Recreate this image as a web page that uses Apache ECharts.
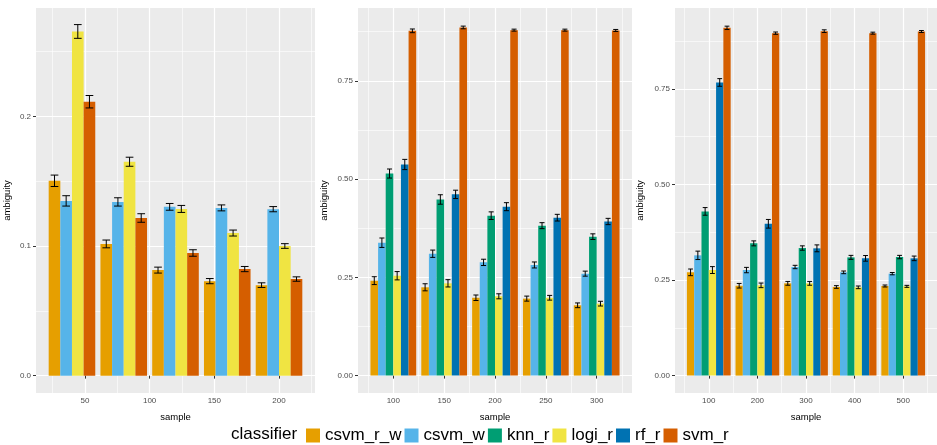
<!DOCTYPE html>
<html>
<head>
<meta charset="utf-8">
<script src="https://cdn.jsdelivr.net/npm/echarts@6/dist/echarts.min.js"></script>
<style>
html,body{margin:0;padding:0;background:#fff;}
#chart{width:937px;height:445px;}
</style>
</head>
<body>
<div id="chart"></div>
<script>
// ---------- data ----------
const classifiers = ['csvm_r_w', 'csvm_w', 'knn_r', 'logi_r', 'rf_r', 'svm_r'];
const colors = ['#E69F00', '#56B4E9', '#009E73', '#F0E442', '#0072B2', '#D55E00'];

// panel 1 (4 classifiers)
const p1Samples = [40, 80, 120, 160, 200];
const p1Classifiers = ['csvm_r_w', 'csvm_w', 'logi_r', 'svm_r'];
const p1_csvm_r_w = [0.1503, 0.1016, 0.0814, 0.0729, 0.0698];
const p1_csvm_w   = [0.1348, 0.1340, 0.1302, 0.1294, 0.1284];
const p1_logi_r   = [0.2655, 0.1650, 0.1286, 0.1100, 0.1000];
const p1_svm_r    = [0.2113, 0.1216, 0.0946, 0.0822, 0.0745];
const p1_csvm_r_w_se = [0.0044, 0.0030, 0.0023, 0.0020, 0.0018];
const p1_csvm_w_se   = [0.0040, 0.0032, 0.0026, 0.0023, 0.0020];
const p1_logi_r_se   = [0.0053, 0.0035, 0.0027, 0.0023, 0.0018];
const p1_svm_r_se    = [0.0048, 0.0033, 0.0025, 0.0020, 0.0017];

// panel 2
const p2Samples = [100, 150, 200, 250, 300];
const p2_csvm_r_w = [0.2415, 0.2246, 0.1980, 0.1958, 0.1788];
const p2_csvm_w   = [0.3380, 0.3100, 0.2880, 0.2814, 0.2593];
const p2_knn_r    = [0.5140, 0.4480, 0.4068, 0.3814, 0.3534];
const p2_logi_r   = [0.2540, 0.2347, 0.2017, 0.1980, 0.1830];
const p2_rf_r     = [0.5370, 0.4610, 0.4297, 0.4017, 0.3920];
const p2_svm_r    = [0.8770, 0.8856, 0.8788, 0.8788, 0.8780];
const p2_csvm_r_w_se = [0.0100, 0.0090, 0.0070, 0.0064, 0.0060];
const p2_csvm_w_se   = [0.0120, 0.0093, 0.0080, 0.0076, 0.0064];
const p2_knn_r_se    = [0.0115, 0.0120, 0.0097, 0.0076, 0.0072];
const p2_logi_r_se   = [0.0106, 0.0093, 0.0064, 0.0060, 0.0060];
const p2_rf_r_se     = [0.0130, 0.0106, 0.0102, 0.0085, 0.0080];
const p2_svm_r_se    = [0.0047, 0.0034, 0.0025, 0.0025, 0.0025];

// panel 3
const p3Samples = [100, 200, 300, 400, 500];
const p3_csvm_r_w = [0.2700, 0.2350, 0.2413, 0.2317, 0.2343];
const p3_csvm_w   = [0.3145, 0.2760, 0.2840, 0.2700, 0.2666];
const p3_knn_r    = [0.4294, 0.3458, 0.3336, 0.3092, 0.3100];
const p3_logi_r   = [0.2760, 0.2360, 0.2413, 0.2308, 0.2334];
const p3_rf_r     = [0.7666, 0.3970, 0.3328, 0.3066, 0.3066];
const p3_svm_r    = [0.9094, 0.8955, 0.9007, 0.8955, 0.8998];
const p3_csvm_r_w_se = [0.0087, 0.0060, 0.0050, 0.0035, 0.0026];
const p3_csvm_w_se   = [0.0110, 0.0070, 0.0044, 0.0035, 0.0030];
const p3_knn_r_se    = [0.0100, 0.0065, 0.0057, 0.0052, 0.0044];
const p3_logi_r_se   = [0.0090, 0.0060, 0.0050, 0.0035, 0.0026];
const p3_rf_r_se     = [0.0100, 0.0113, 0.0090, 0.0074, 0.0060];
const p3_svm_r_se    = [0.0044, 0.0030, 0.0035, 0.0026, 0.0026];

// tick labels
const p1XTicks = [50, 100, 150, 200];
const p1XMinor = [25, 75, 125, 175, 225];
const p1YTicks = [0, 0.1, 0.2];
const p1YMinor = [0.05, 0.15, 0.25];
const p2XTicks = [100, 150, 200, 250, 300];
const p2XMinor = [75, 125, 175, 225, 275, 325];
const p2YTicks = [0, 0.25, 0.5, 0.75];
const p2YMinor = [0.125, 0.375, 0.625, 0.875];
const p3XTicks = [100, 200, 300, 400, 500];
const p3XMinor = [50, 150, 250, 350, 450, 550];
const p3YTicks = [0, 0.25, 0.5, 0.75];
const p3YMinor = [0.125, 0.375, 0.625, 0.875];

// ---------- build ----------
const FONT = 'Liberation Sans, Arial, Helvetica, sans-serif';

const panels = [
  { samples: p1Samples, step: 40, names: p1Classifiers,
    values: [p1_csvm_r_w, p1_csvm_w, p1_logi_r, p1_svm_r],
    errs: [p1_csvm_r_w_se, p1_csvm_w_se, p1_logi_r_se, p1_svm_r_se],
    xMin: 12.2, xMax: 227.8, yMin: -0.0134, yMax: 0.2836,
    xTicks: p1XTicks, xMinor: p1XMinor, yTicks: p1YTicks, yMinor: p1YMinor, dec: 1,
    grid: { left: 36, top: 8, width: 279, height: 385 }, yNameGap: 24 },
  { samples: p2Samples, step: 50, names: classifiers,
    values: [p2_csvm_r_w, p2_csvm_w, p2_knn_r, p2_logi_r, p2_rf_r, p2_svm_r],
    errs: [p2_csvm_r_w_se, p2_csvm_w_se, p2_knn_r_se, p2_logi_r_se, p2_rf_r_se, p2_svm_r_se],
    xMin: 65.25, xMax: 334.75, yMin: -0.0443, yMax: 0.9351,
    xTicks: p2XTicks, xMinor: p2XMinor, yTicks: p2YTicks, yMinor: p2YMinor, dec: 2,
    grid: { left: 358, top: 8, width: 274, height: 385 }, yNameGap: 29 },
  { samples: p3Samples, step: 100, names: classifiers,
    values: [p3_csvm_r_w, p3_csvm_w, p3_knn_r, p3_logi_r, p3_rf_r, p3_svm_r],
    errs: [p3_csvm_r_w_se, p3_csvm_w_se, p3_knn_r_se, p3_logi_r_se, p3_rf_r_se, p3_svm_r_se],
    xMin: 30.5, xMax: 569.5, yMin: -0.0455, yMax: 0.9613,
    xTicks: p3XTicks, xMinor: p3XMinor, yTicks: p3YTicks, yMinor: p3YMinor, dec: 2,
    grid: { left: 675, top: 8, width: 262, height: 385 }, yNameGap: 30 }
];

const grids = [], xAxes = [], yAxes = [], series = [];

panels.forEach((p, g) => {
  grids.push(Object.assign({ show: true, backgroundColor: '#EBEBEB', borderWidth: 0 }, p.grid));
  xAxes.push({
    type: 'value', gridIndex: g, min: p.xMin, max: p.xMax,
    axisLine: { show: false },
    axisTick: { show: true, length: 3, lineStyle: { color: '#333333', width: 1 }, customValues: p.xTicks },
    axisLabel: { customValues: p.xTicks, color: '#4D4D4D', fontSize: 8, margin: 4, fontFamily: FONT },
    splitLine: { show: true, lineStyle: { color: '#FFFFFF', width: 1.2 } },
    name: 'sample', nameLocation: 'middle', nameGap: 19,
    nameTextStyle: { color: '#000', fontSize: 9.5, fontFamily: FONT }
  });
  yAxes.push({
    type: 'value', gridIndex: g, min: p.yMin, max: p.yMax,
    axisLine: { show: false },
    axisTick: { show: true, length: 3, lineStyle: { color: '#333333', width: 1 }, customValues: p.yTicks },
    axisLabel: { customValues: p.yTicks, color: '#4D4D4D', fontSize: 8, margin: 5, fontFamily: FONT,
      formatter: (v) => Number(v).toFixed(p.dec) },
    splitLine: { show: true, lineStyle: { color: '#FFFFFF', width: 1.2 } },
    name: 'ambiguity', nameLocation: 'middle', nameGap: p.yNameGap, nameRotate: 90,
    nameTextStyle: { color: '#000', fontSize: 9.5, fontFamily: FONT }
  });
});
panels.forEach((p, g) => {
  xAxes.push({
    type: 'value', gridIndex: g, min: p.xMin, max: p.xMax, position: 'bottom',
    axisLine: { show: false },
    axisTick: { show: false, customValues: p.xMinor },
    axisLabel: { show: false, customValues: p.xMinor },
    splitLine: { show: true, lineStyle: { color: '#FFFFFF', width: 0.6 } }
  });
  yAxes.push({
    type: 'value', gridIndex: g, min: p.yMin, max: p.yMax, position: 'left',
    axisLine: { show: false },
    axisTick: { show: false, customValues: p.yMinor },
    axisLabel: { show: false, customValues: p.yMinor },
    splitLine: { show: true, lineStyle: { color: '#FFFFFF', width: 0.6 } }
  });
});

function makeRender(i, n, D) {
  return function (params, api) {
    const x = api.value(0), v = api.value(1), se = api.value(2);
    const w = D / n;
    const x0 = x - D / 2 + w * i, x1 = x0 + w;
    const pTop = api.coord([x0, v]);
    const pBot = api.coord([x1, 0]);
    const cx = api.coord([(x0 + x1) / 2, 0])[0];
    const half = (pBot[0] - pTop[0]) * 0.33;
    const yHi = api.coord([x0, v + se])[1];
    const yLo = api.coord([x0, v - se])[1];
    const ls = { stroke: '#000', lineWidth: 1 };
    return {
      type: 'group',
      children: [
        { type: 'rect', shape: { x: pTop[0], y: pTop[1], width: pBot[0] - pTop[0], height: pBot[1] - pTop[1] },
          style: { fill: api.visual('color') } },
        { type: 'line', shape: { x1: cx, y1: yHi, x2: cx, y2: yLo }, style: ls, z2: 5 },
        { type: 'line', shape: { x1: cx - half, y1: yHi, x2: cx + half, y2: yHi }, style: ls, z2: 5 },
        { type: 'line', shape: { x1: cx - half, y1: yLo, x2: cx + half, y2: yLo }, style: ls, z2: 5 }
      ]
    };
  };
}

panels.forEach((p, g) => {
  const n = p.names.length;
  const D = 0.9 * p.step;
  p.names.forEach((name, i) => {
    const data = p.samples.map((s, k) => [s, p.values[i][k], p.errs[i][k]]);
    series.push({
      type: 'custom', name: name, xAxisIndex: g, yAxisIndex: g,
      itemStyle: { color: colors[classifiers.indexOf(name)] },
      encode: { x: 0, y: 1 },
      renderItem: makeRender(i, n, D),
      data: data, silent: true
    });
  });
});

const chart = echarts.init(document.getElementById('chart'), null, { renderer: 'canvas' });
chart.setOption({
  animation: false,
  backgroundColor: '#FFFFFF',
  textStyle: { fontFamily: FONT },
  grid: grids,
  xAxis: xAxes,
  yAxis: yAxes,
  legend: {
    data: classifiers.map((c, i) => ({ name: c, icon: 'rect', itemStyle: { color: colors[i] } })),
    left: 306, top: 427, itemWidth: 14, itemHeight: 14, itemGap: 3, padding: 0,
    textStyle: { fontSize: 17, color: '#000', fontFamily: FONT }
  },
  graphic: [{
    type: 'text', left: 231, top: 426,
    style: { text: 'classifier', fontSize: 17, fill: '#000', font: '17px ' + FONT }
  }],
  series: series
});
</script>
</body>
</html>
